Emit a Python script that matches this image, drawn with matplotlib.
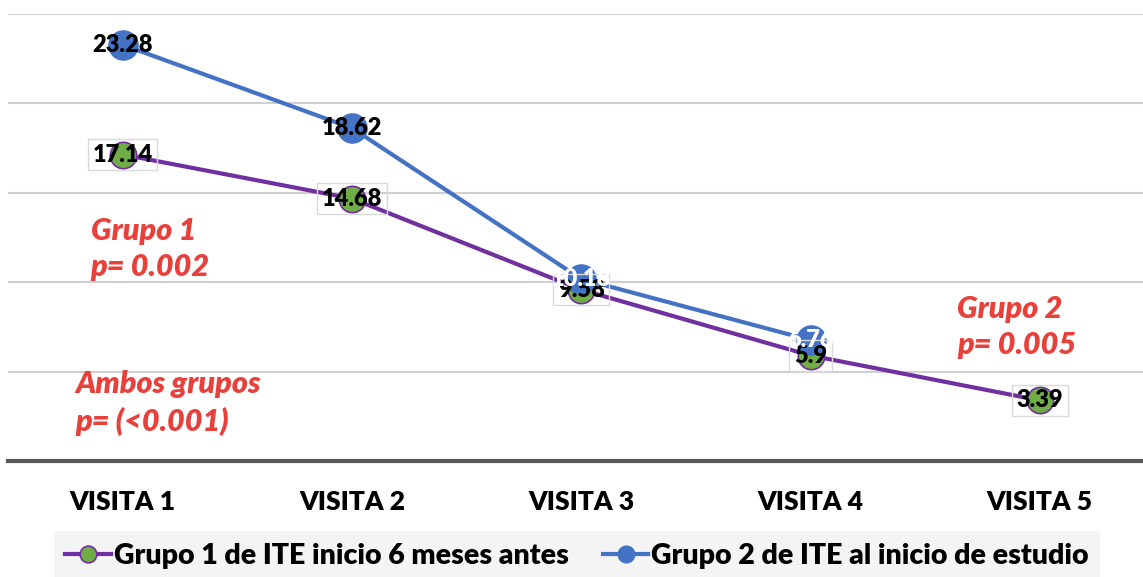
import matplotlib.pyplot as plt

visitas = ['VISITA 1', 'VISITA 2', 'VISITA 3', 'VISITA 4', 'VISITA 5']
grupo1 = [17.14, 14.68, 9.58, 5.9, 3.39]
grupo2 = [23.28, 18.62, 10.18, 6.76]
grupo1_name = 'Grupo 1 de ITE inicio 6 meses antes'
grupo2_name = 'Grupo 2 de ITE al inicio de estudio'
notas = [
    (-0.14, 11.86, 'Grupo 1\np= 0.002'),
    (-0.205, 3.24, 'Ambos grupos\np= (<0.001)'),
    (3.64, 7.49, 'Grupo 2\np= 0.005'),
]

purple = '#7030A0'
blue = '#4472C4'
green = '#70AD47'
red = '#E8403A'

plt.rcParams['font.family'] = ['Lato', 'DejaVu Sans']

fig = plt.figure(figsize=(11.43, 5.77), dpi=100)
ax = fig.add_axes([8/1143, 116/577, 1 - 8/1143, (461-14)/577])

x1 = range(len(grupo1))
x2 = range(len(grupo2))
ax.plot(x1, grupo1, color=purple, lw=3, marker='o', ms=19,
        mfc=green, mec=purple, mew=1.2, label=grupo1_name, zorder=3)
ax.plot(x2, grupo2, color=blue, lw=3, marker='o', ms=21,
        mfc=blue, mec=blue, label=grupo2_name, zorder=4)

for i, v in enumerate(grupo1):
    ax.text(i, v, f'{v:g}', ha='center', va='center', fontsize=17,
            fontweight='heavy', color='black', zorder=6,
            bbox=dict(boxstyle='square,pad=0.2', fc='none', ec='#D9D9D9', lw=1))
for i, v in enumerate(grupo2):
    col = 'black' if v > 15 else 'white'
    ax.text(i, v, f'{v:g}', ha='center', va='center', fontsize=17,
            fontweight='heavy', color=col, zorder=7)

for x, y, t in notas:
    ax.text(x, y, t, color=red, fontsize=22, fontweight='heavy',
            style='italic', ha='left', va='center', linespacing=1.35)

ax.set_xlim(-0.5, 4.45)
ax.set_ylim(0, 25)
ax.set_yticks([5, 10, 15, 20, 25])
ax.yaxis.grid(True, color='#D0D0D0', lw=1.5)
ax.set_axisbelow(True)
ax.set_yticklabels([])
ax.tick_params(axis='y', length=0)
ax.axhline(0, color='#595959', lw=3, zorder=2, clip_on=False)
for s in ax.spines.values():
    s.set_visible(False)
ax.set_xticks(range(len(visitas)))
ax.set_xticklabels(visitas, fontsize=19, fontweight='heavy')
ax.tick_params(axis='x', length=0, pad=21)

leg = fig.legend(loc='lower center', bbox_to_anchor=(0.505, -0.03), ncol=2,
                 frameon=True, fancybox=False, handlelength=1.6,
                 columnspacing=1.2, handletextpad=0.1, borderpad=0.4,
                 prop={'weight': 'heavy', 'size': 20.5})
leg.get_frame().set_facecolor('#F2F2F2')
leg.get_frame().set_edgecolor('none')
for h in leg.legend_handles:
    h.set_markersize(12)

fig.savefig('out.png', dpi=100)
